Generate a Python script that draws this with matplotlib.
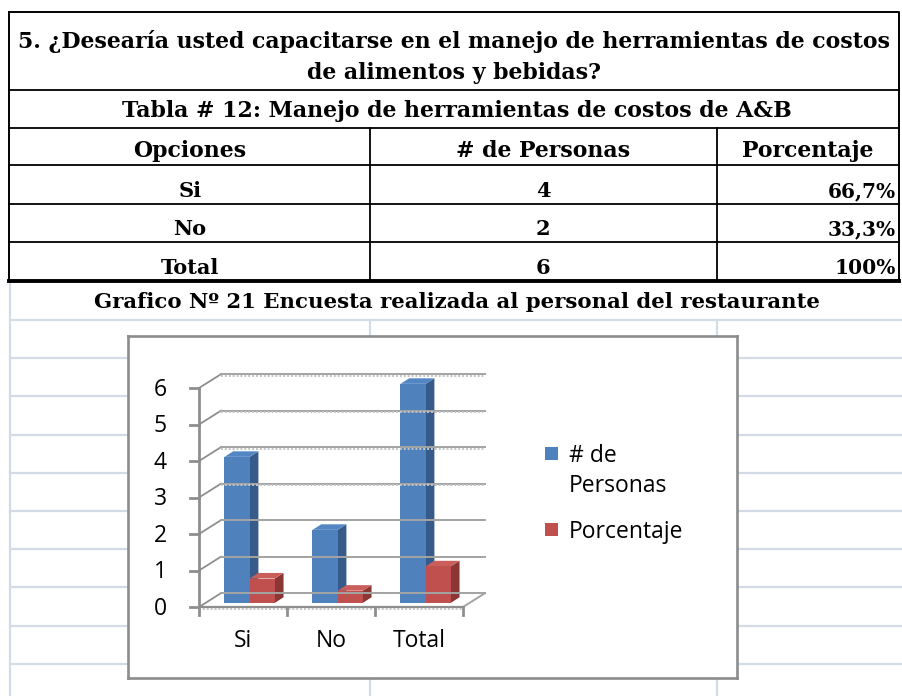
import matplotlib
matplotlib.use("Agg")
import matplotlib.pyplot as plt
from matplotlib.patches import Polygon, Rectangle

# datos de la tabla / grafico
opciones = ["Si", "No", "Total"]
personas = [4, 2, 6]
porcentaje = [0.667, 0.333, 1.0]
porcentaje_txt = ["66,7%", "33,3%", "100%"]
y_ticks = [0, 1, 2, 3, 4, 5, 6]
series = ["# de\nPersonas", "Porcentaje"]

pregunta = ["5. ¿Desearía usted capacitarse en el manejo de herramientas de costos",
            "de alimentos y bebidas?"]
tabla_titulo = "Tabla # 12: Manejo de herramientas de costos de A&B"
encabezados = ["Opciones", "# de Personas", "Porcentaje"]
grafico_titulo = "Grafico Nº 21 Encuesta realizada al personal del restaurante"

SERIF = "DejaVu Serif"
SANS = "Open Sans"

fig = plt.figure(figsize=(9.02, 6.96), dpi=100)
bg = fig.add_axes([0, 0, 1, 1])
bg.set_xlim(0, 902)
bg.set_ylim(696, 0)
bg.axis("off")

# hoja de calculo de fondo
grid_c = "#d3dbe7"
for k in range(10):
    y = 320 + 38.2 * k
    bg.plot([10, 902], [y, y], color=grid_c, lw=1.6)
bg.plot([10, 10], [282, 696], color=grid_c, lw=1.6)
for x in [370, 717]:
    bg.plot([x, x], [320, 696], color=grid_c, lw=1.6)

# tabla
bg.plot([9, 899, 899, 9, 9], [12, 12, 281, 281, 12], color="k", lw=1.4)
for y in [90, 128, 165, 204, 242]:
    bg.plot([9, 899], [y, y], color="k", lw=1.3)
bg.plot([9, 899], [281, 281], color="k", lw=2.8)
for x in [370, 717]:
    bg.plot([x, x], [128, 281], color="k", lw=1.3)

bg.text(454, 48, pregunta[0], ha="center", va="baseline", family=SERIF,
        weight="bold", fontsize=15.8)
bg.text(454, 79, pregunta[1], ha="center", va="baseline", family=SERIF,
        weight="bold", fontsize=15.8)
bg.text(457, 117, tabla_titulo, ha="center", va="baseline", family=SERIF,
        weight="bold", fontsize=15.8)

col_x = [190, 543, 808]
for cx, h in zip(col_x, encabezados):
    bg.text(cx, 157, h, ha="center", va="baseline", family=SERIF,
            weight="bold", fontsize=15.8)
row_y = [197, 235, 274]
for ry, o, p, t in zip(row_y, opciones, personas, porcentaje_txt):
    bg.text(col_x[0], ry, o, ha="center", va="baseline", family=SERIF,
            weight="bold", fontsize=15)
    bg.text(col_x[1], ry, str(p), ha="center", va="baseline", family=SERIF,
            weight="bold", fontsize=15)
    bg.text(896, ry, t, ha="right", va="baseline", family=SERIF,
            weight="bold", fontsize=14.5)

bg.text(457, 308, grafico_titulo, ha="center", va="baseline", family=SERIF,
        weight="bold", fontsize=15.3)

# grafico 3D tipo excel
ax = fig.add_axes([128 / 902, (696 - 678) / 696, 609 / 902, 342 / 696])
ax.set_xlim(-0.807, 6.114)
ax.set_ylim(-1.945, 7.425)
ax.set_xticks([])
ax.set_yticks([])
ax.set_facecolor("white")
for s in ax.spines.values():
    s.set_color("#8c8c8c")
    s.set_linewidth(1.9)

DX, DY = 0.25, 0.38
D0, D1 = 0.3, 0.7
ncat = len(opciones)
axis_c = "#8e8e8e"

for v in y_ticks:
    ax.plot([0, DX], [v, v + DY], color=axis_c, lw=1.3)
    ax.plot([DX, ncat + DX], [v + DY, v + DY], color="#a3a3a3", lw=1.4)
    if v >= 3:
        ax.plot([DX, ncat + DX], [v + DY - 0.04, v + DY - 0.04], color="#c4c4c4",
                lw=1.4, ls=(0, (1, 1)))
    ax.plot([-0.1, 0], [v, v], color=axis_c, lw=2)
ax.plot([0, 0], [0, y_ticks[-1]], color=axis_c, lw=2)
ax.plot([0, ncat], [0, 0], color=axis_c, lw=1.6)
ax.plot([0, ncat], [-0.05, -0.05], color="#c4c4c4", lw=1.4, ls=(0, (1, 1)))
ax.plot([ncat, ncat + DX], [0, DY], color="#a3a3a3", lw=1.4)
for i in range(ncat + 1):
    ax.plot([i, i], [0, -0.22], color=axis_c, lw=2)


def bar3d(x0, w, h, front, side, top):
    ox0, oy0 = DX * D0, DY * D0
    ox1, oy1 = DX * D1, DY * D1
    x1 = x0 + w
    ax.add_patch(Polygon([(x1 + ox0, oy0), (x1 + ox1, oy1), (x1 + ox1, h + oy1),
                          (x1 + ox0, h + oy0)], closed=True, color=side, lw=0))
    ax.add_patch(Polygon([(x0 + ox0, h + oy0), (x1 + ox0, h + oy0), (x1 + ox1, h + oy1),
                          (x0 + ox1, h + oy1)], closed=True, color=top, lw=0))
    ax.add_patch(Rectangle((x0 + ox0, oy0), w, h, color=front, lw=0))


bw = 1 / 3.5
gap = 0.75 / 3.5
blue = ("#4f81bd", "#365b8a", "#5486c4")
red = ("#c0504d", "#893634", "#c95e5b")
for i in range(ncat):
    bar3d(i + gap, bw, personas[i], *blue)
    bar3d(i + gap + bw, bw, porcentaje[i], *red)

for v in y_ticks:
    ax.text(-0.443, v - 0.21, str(v), ha="center", va="baseline", family=SANS,
            fontsize=16.5)
for i, o in enumerate(opciones):
    ax.text(i + 0.5, -1.1, o, ha="center", va="baseline", family=SANS, fontsize=16.5)


def afrac(px, py):
    return ((px - 128) / 609, (678 - py) / 342)


ax.add_patch(Rectangle(afrac(545, 460), 13 / 609, 13 / 342, transform=ax.transAxes,
                       color=blue[0], lw=0))
ax.add_patch(Rectangle(afrac(545, 536), 13 / 609, 13 / 342, transform=ax.transAxes,
                       color=red[0], lw=0))
lx, ly = afrac(569, 462)
ax.text(lx, ly, "# de", transform=ax.transAxes, va="baseline", family=SANS, fontsize=16.5)
lx, ly = afrac(569, 492)
ax.text(lx, ly, "Personas", transform=ax.transAxes, va="baseline", family=SANS, fontsize=16.5)
lx, ly = afrac(569, 538)
ax.text(lx, ly, series[1], transform=ax.transAxes, va="baseline", family=SANS, fontsize=16.5)

fig.savefig("out.png", dpi=100, facecolor="white")
